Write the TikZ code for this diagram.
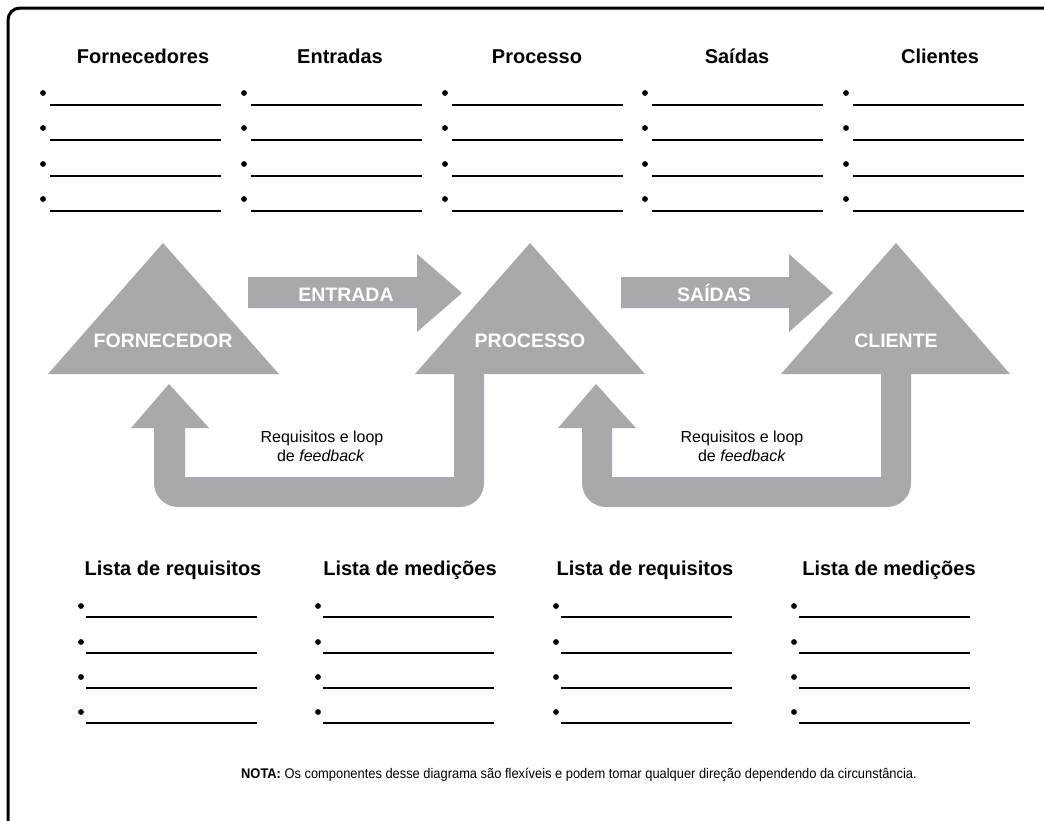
\documentclass[tikz,border=0pt]{standalone}
\usepackage{fontspec}
\setmainfont{Liberation Sans}
\newfontfamily\condfont[FakeStretch=0.92]{Liberation Sans}
\definecolor{shapegray}{RGB}{167,169,172}
\begin{document}
\begin{tikzpicture}[x=1pt,y=-1pt,
  hdr/.style={font=\fontsize{20}{24}\selectfont\bfseries, anchor=base, inner sep=0pt},
  lbl/.style={font=\fontsize{19.5}{23}\selectfont\bfseries, text=white, anchor=base, inner sep=0pt},
  fb/.style={font=\fontsize{16}{19}\selectfont, anchor=base, inner sep=0pt},
  blank/.style={line width=1.9pt},
  bigshape/.style={fill=shapegray}]
\useasboundingbox (0,0) rectangle (1044,820);
% frame
\draw[line width=3pt, rounded corners=12pt] (8,824) -- (8,8) -- (1048,8);

% top headers
\node[hdr] (hforn) at (143,63) {Fornecedores};
\node[hdr] (hentr) at (340,63) {Entradas};
\node[hdr] (hproc) at (537,63) {Processo};
\node[hdr] (hsaid) at (737,63) {Saídas};
\node[hdr] (hclie) at (940,63) {Clientes};
\foreach \b in {43,244,445,645,846} {
  \foreach \y in {105,140,176,211} {
    \fill (\b,\y-12) circle[radius=2.9];
    \draw[blank] (\b+7,\y) -- (\b+178,\y);
  }
}

% triangles
\fill[bigshape] (48,374) -- (163,243) -- (279,374) -- cycle;
\fill[bigshape] (415,374) -- (530,243) -- (645,374) -- cycle;
\fill[bigshape] (781,374) -- (896,243) -- (1010,374) -- cycle;
% horizontal arrows
\fill[bigshape] (248,277) -- (417,277) -- (417,254) -- (462,293) -- (417,332) -- (417,308) -- (248,308) -- cycle;
\fill[bigshape] (621,277) -- (789,277) -- (789,254) -- (833,293) -- (789,332) -- (789,308) -- (621,308) -- cycle;
% feedback U arrows
\fill[bigshape] (484,374) -- (484,483) arc[start angle=0, end angle=90, radius=24] -- (178,507)
  arc[start angle=90, end angle=180, radius=24] -- (154,428) -- (131,428) -- (169,384) -- (209,428)
  -- (185,428) -- (185,477) -- (454,477) -- (454,374) -- cycle;
\fill[bigshape] (911,374) -- (911,483) arc[start angle=0, end angle=90, radius=24] -- (606,507)
  arc[start angle=90, end angle=180, radius=24] -- (582,428) -- (558,428) -- (596,384) -- (636,428)
  -- (612,428) -- (612,477) -- (881,477) -- (881,374) -- cycle;

% labels
\node[lbl] (fornecedor) at (163,347) {FORNECEDOR};
\node[lbl] (processo) at (530,347) {PROCESSO};
\node[lbl] (cliente) at (896,347) {CLIENTE};
\node[lbl] (entrada) at (346,301) {ENTRADA};
\node[lbl] (saidas) at (714,301) {SAÍDAS};
\node[fb] (fb1a) at (322,442) {Requisitos e loop};
\node[fb] (fb1b) at (321,461) {de \textit{feedback}};
\node[fb] (fb2a) at (742,442) {Requisitos e loop};
\node[fb] (fb2b) at (742,461) {de \textit{feedback}};

% bottom headers
\node[hdr] (hreq1) at (173,575) {Lista de requisitos};
\node[hdr] (hmed1) at (410,575) {Lista de medições};
\node[hdr] (hreq2) at (645,575) {Lista de requisitos};
\node[hdr] (hmed2) at (889,575) {Lista de medições};
\foreach \b in {81,318,556,794} {
  \foreach \y in {617,653,688,723} {
    \fill (\b,\y-11) circle[radius=2.9];
    \draw[blank] (\b+5,\y) -- (\b+176,\y);
  }
}

% note
\node[anchor=base, inner sep=0pt, font=\condfont\fontsize{14}{17}\selectfont] (nota) at (579,778)
  {\textbf{NOTA:} Os componentes desse diagrama são flexíveis e podem tomar qualquer direção dependendo da circunstância.};
\end{tikzpicture}
\end{document}
